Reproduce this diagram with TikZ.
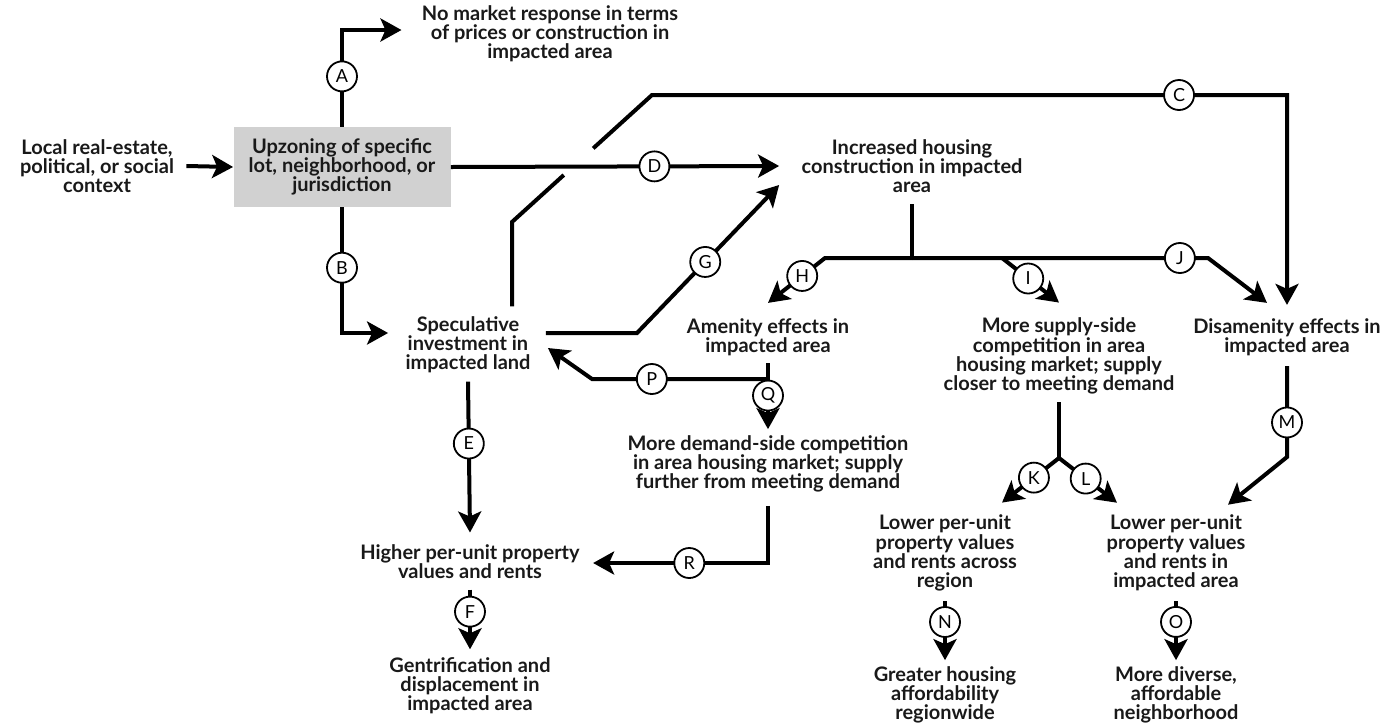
\documentclass[tikz,border=0pt]{standalone}
\usepackage{fontspec}
\setmainfont{Lato}
\usetikzlibrary{arrows.meta,calc}

\begin{document}
\begin{tikzpicture}[x=0.5pt,y=-0.5pt,
    txt/.style={align=center, inner sep=0pt, text=black!90, font=\bfseries\fontsize{10}{9.6}\selectfont},
    lbl/.style={circle, draw, line width=0.9pt, fill=white, minimum size=15pt, inner sep=0pt, font=\fontsize{9}{9}\selectfont},
    link/.style={line width=2pt},
    arr/.style={link, -{Stealth[length=10.5pt,width=11.5pt,inset=2.5pt]}}]
    \useasboundingbox (0,0) rectangle (1386,724);

    % Texts
    \node[txt] (ctx) at (97,166) {Local real-estate,\\political, or social\\context};
    \node[txt, fill=black!18, minimum width=108.5pt, minimum height=40pt] (upz) at (342,167) {Upzoning of specific\\lot, neighborhood, or\\jurisdiction};
    \node[txt] (nomkt) at (550,34) {No market response in terms\\of prices or construction in\\impacted area};
    \node[txt] (spec) at (468,345) {Speculative\\investment in\\impacted land};
    \node[txt] (incr) at (912,166) {Increased housing\\construction in impacted\\area};
    \node[txt] (amen) at (768,337) {Amenity effects in\\impacted area};
    \node[txt] (supp) at (1059,356) {More supply-side\\competition in area\\housing market; supply\\closer to meeting demand};
    \node[txt] (disam) at (1287,337) {Disamenity effects in\\impacted area};
    \node[txt] (dem) at (768,464) {More demand-side competition\\in area housing market; supply\\further from meeting demand};
    \node[txt] (higher) at (470,562) {Higher per-unit property\\values and rents};
    \node[txt] (gent) at (470,686) {Gentrification and\\displacement in\\impacted area};
    \node[txt] (lowreg) at (945,553) {Lower per-unit\\property values\\and rents across\\region};
    \node[txt] (lowimp) at (1176,553) {Lower per-unit\\property values\\and rents in\\impacted area};
    \node[txt] (afford) at (945,695) {Greater housing\\affordability\\regionwide};
    \node[txt] (diverse) at (1176,695) {More diverse,\\affordable\\neighborhood};

    % Bends
    \coordinate (c1) at (512,222);
    \coordinate (c2) at (652,95);
    \coordinate (g1) at (637,333);
    \coordinate (bus) at (912,258);
    \coordinate (hBend) at (825,258);
    \coordinate (iFork) at (1002,258);
    \coordinate (jBend) at (1208,258);
    \coordinate (pq) at (768,379);
    \coordinate (pBend) at (592,379);
    \coordinate (mBend) at (1287,457);
    \coordinate (kl) at (1059,458);

    \draw[arr] ($(ctx.east)+(12,0)$) -- (upz.west);
    \draw[arr] (upz.north) |- node[lbl, pos=0.26] (cA) {A} ($(nomkt.west)+(-20,-4)$);
    \draw[arr] (upz.south) |- node[lbl, pos=0.24] (cB) {B} ($(spec.west)+(-17,-12)$);

    % C passes behind D
    \draw[link] ($(spec.north)+(44,-10)$) -- (c1) -- ($(c1)!0.37!(c2)$);
    \draw[arr] ($(c1)!0.58!(c2)$) -- (c2) -| node[lbl, pos=0.415] (cC) {C} ($(disam.north)+(0,-13)$);
    \draw[arr] (upz.east) -- node[lbl, pos=0.62] (cD) {D} ($(incr.west)+(-22,0)$);
    \draw[arr] ($(spec.east)+(15,-12)$) -- (g1) -- node[lbl, pos=0.48] (cG) {G} ($(incr.west)+(-22,19)$);

    % Out of increased construction
    \draw[link] ($(incr.south)+(0,11)$) -- (bus);
    \draw[arr] (bus) -- (hBend) -- node[lbl, pos=0.4] (cH) {H} ($(amen.north)+(0,-15)$);
    \draw[arr] (iFork) -- node[lbl, pos=0.46] (cI) {I} ($(supp.north)+(0,-15)$);
    \draw[arr] (bus) -- node[lbl, pos=0.905] (cJ) {J} (jBend) -- ($(disam.north)+(-20,-15)$);

    \draw[link] ($(amen.south)+(0,7)$) -- (pq);
    \draw[arr] (pq) -- node[lbl, pos=0.66] (cP) {P} (pBend) -- ($(spec.east)+(17,3)$);
    \draw[arr] (pq) -- node[lbl, pos=0.33] (cQ) {Q} ($(dem.north)+(0,-6)$);
    \draw[arr] ($(dem.south)+(0,13)$) |- node[lbl, pos=0.725] (cR) {R} ($(higher.east)+(13,1)$);

    \draw[arr] ($(spec.south)+(0,8)$) -- node[lbl, pos=0.41] (cE) {E} ($(higher.north)+(0,-12)$);
    \draw[arr] ($(higher.south)+(0,10)$) -- node[lbl, pos=0.37] (cF) {F} ($(gent.north)+(0,-8)$);

    \draw[arr] ($(disam.south)+(0,10)$) -- node[lbl, pos=0.62] (cM) {M} (mBend) -- ($(lowimp.north)+(52,-10)$);
    \draw[link] ($(supp.south)+(0,8)$) -- (kl);
    \draw[arr] (kl) -- node[lbl, pos=0.44] (cK) {K} ($(lowreg.north)+(57,-12)$);
    \draw[arr] (kl) -- node[lbl, pos=0.46] (cL) {L} ($(lowimp.north)+(-59,-12)$);

    \draw[arr] ($(lowreg.south)+(0,10)$) -- node[lbl, pos=0.35] (cN) {N} ($(afford.north)+(0,-6)$);
    \draw[arr] ($(lowimp.south)+(0,10)$) -- node[lbl, pos=0.35] (cO) {O} ($(diverse.north)+(0,-6)$);
\end{tikzpicture}
\end{document}
